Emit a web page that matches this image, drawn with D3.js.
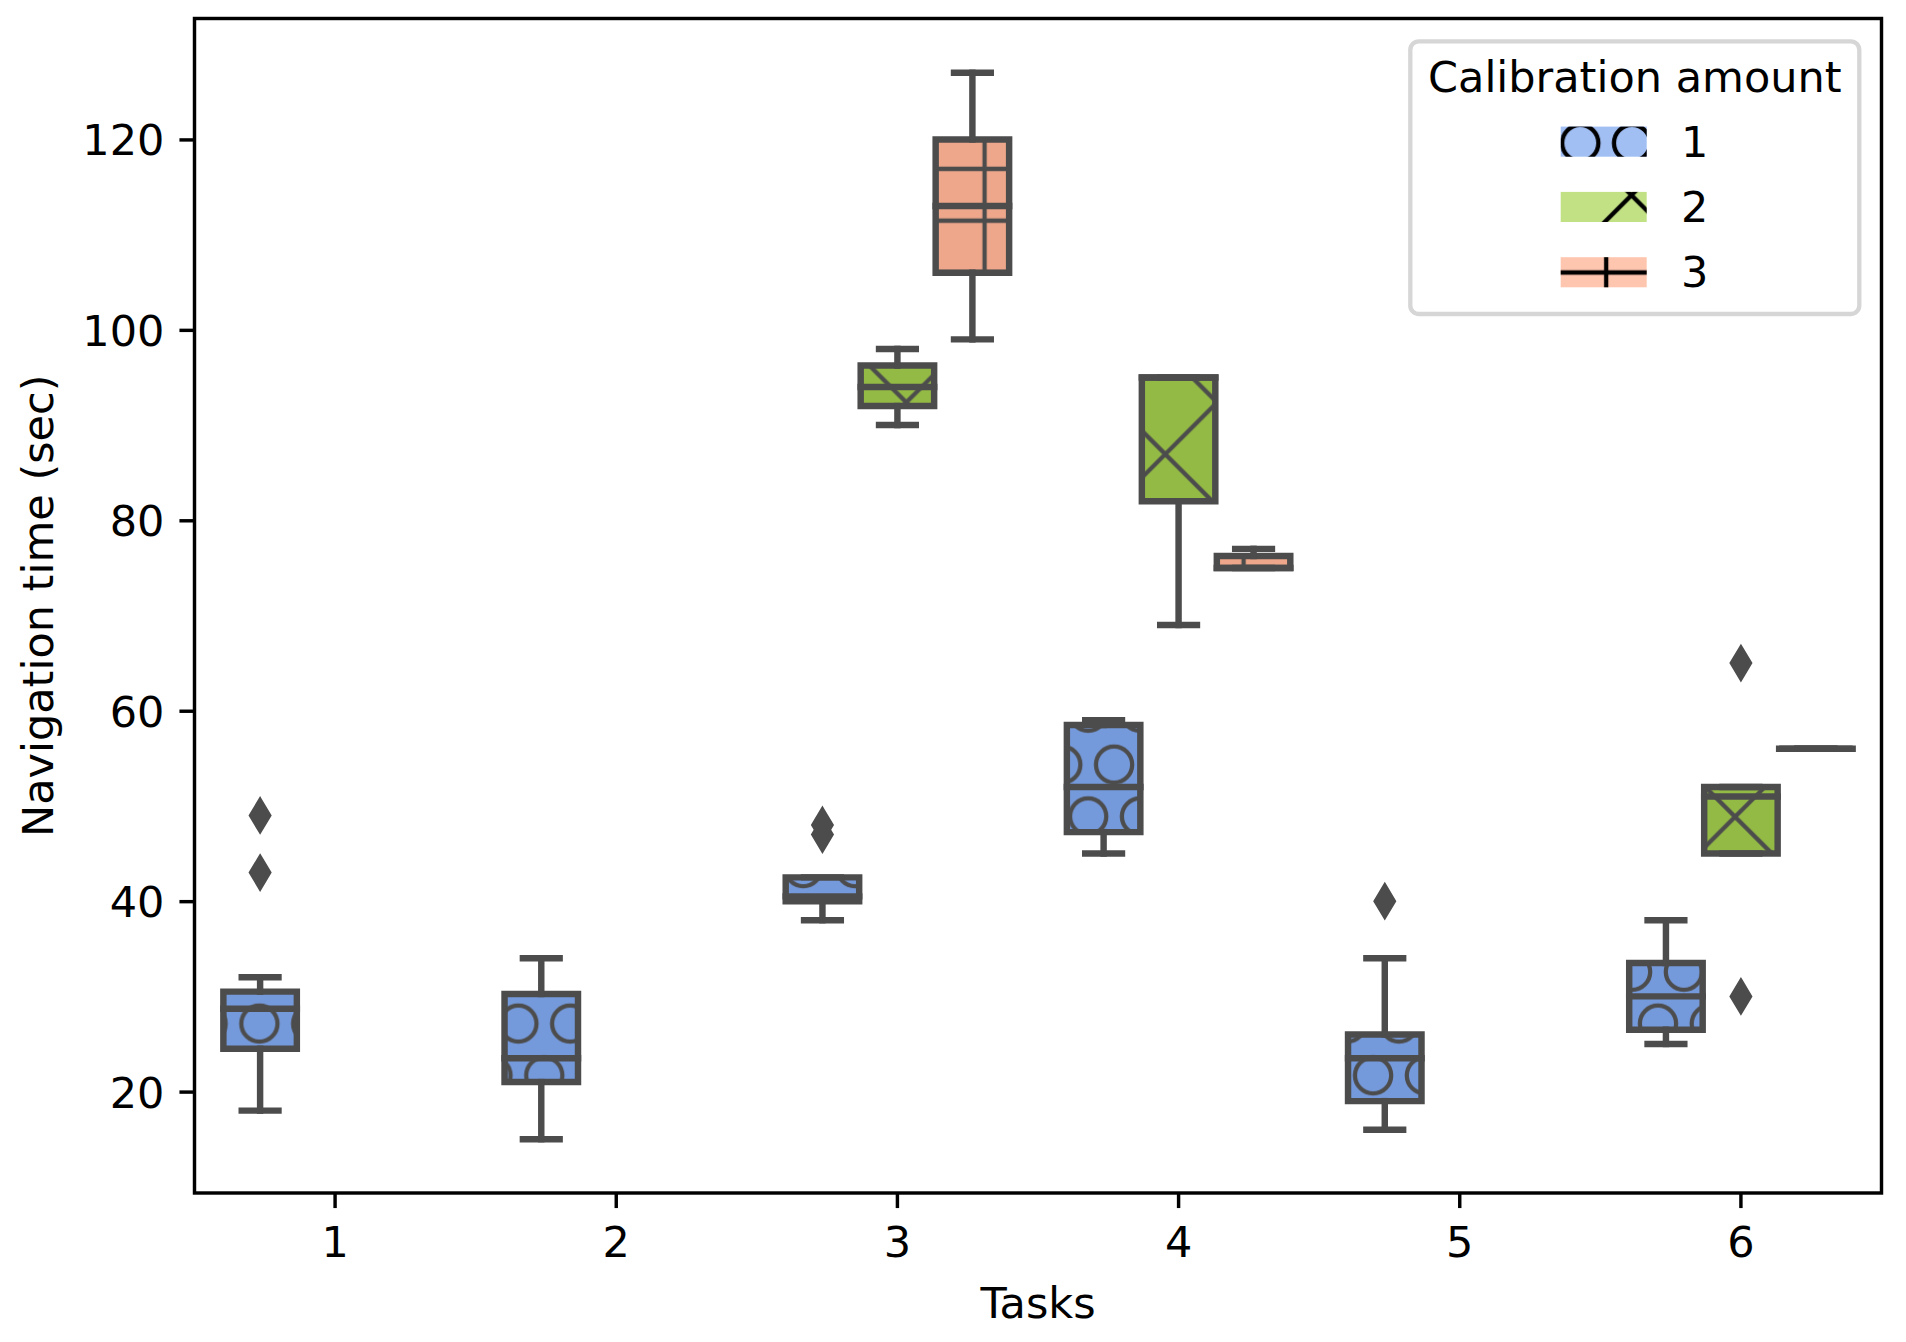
<!DOCTYPE html>
<html>
<head>
<meta charset="utf-8">
<script src="https://cdn.jsdelivr.net/npm/d3@7/dist/d3.min.js"></script>
<style>
html, body { margin: 0; padding: 0; background: #ffffff; }
svg { display: block; }
text { font-family: "DejaVu Sans", sans-serif; }
</style>
</head>
<body>
<div id="chart"></div>
<script>
// ---------------- data ----------------
const tasks = ["1", "2", "3", "4", "5", "6"];
const calibrationLevels = ["1", "2", "3"];
const yTickValues = [20, 40, 60, 80, 100, 120];

const boxTask  = ["1", "2", "3", "3", "3", "4", "4", "4", "5", "6", "6", "6"];
const boxLevel = ["1", "1", "1", "2", "3", "1", "2", "3", "1", "1", "2", "3"];
const whiskerLow  = [18, 15, 38, 90, 99, 45, 69, 75, 16, 25, 45, 56];
const quartile1   = [24.5, 21, 40, 92, 106, 47.25, 82, 75, 19, 26.5, 45, 56];
const medianValue = [28.7, 23.5, 40.5, 94, 113, 52, 95, 75, 23.5, 30, 51, 56];
const quartile3   = [30.5, 30.25, 42.5, 96.25, 120, 58.5, 95, 76.25, 26, 33.5, 52, 56];
const whiskerHigh = [32, 34, 42.5, 98, 127, 59, 95, 77, 34, 38, 52, 56];
const outliers    = [[43, 49], [], [47, 48], [], [], [], [], [], [40], [], [30, 65], []];

const boxColors    = ["#759adc", "#93ba45", "#eea78b"];
const legendColors = ["#a2bff4", "#c2e184", "#ffc6af"];
const hatchKinds   = ["O", "x", "+"];

// ---------------- layout ----------------
const W = 1906, H = 1342;
const plot = { left: 194.5, right: 1881.5, top: 18.5, bottom: 1193 };
const gray = "#4c4c4c";
const FS = 43;
const boxLW = 6.45, hatchLW = 4.3, spineLW = 3.44, tickLen = 15.07;
const P = 51.8;            // hatch cell size
const T = 2 * P;

const svg = d3.select("#chart").append("svg")
  .attr("width", W).attr("height", H)
  .attr("viewBox", `0 0 ${W} ${H}`);

const x = d3.scaleBand().domain(tasks).range([plot.left, plot.right]).padding(0);
const bw = x.bandwidth();
const inner = d3.scaleBand().domain(calibrationLevels).range([-0.4 * bw, 0.4 * bw]).padding(0);
const boxW = inner.bandwidth() * 0.98;
const y = d3.scaleLinear().domain([9.35, 132.7]).range([plot.bottom, plot.top]);

// ---------------- hatch patterns ----------------
const defs = svg.append("defs");
function makePatterns(suffix, color) {
  const pa = defs.append("pattern").attr("id", "hO_A" + suffix)
    .attr("patternUnits", "userSpaceOnUse")
    .attr("x", 0.4 - P / 2).attr("y", 91.2 - P / 2)
    .attr("width", P).attr("height", 2 * P);
  pa.append("circle").attr("cx", P / 2).attr("cy", P / 2).attr("r", 18.1)
    .attr("fill", "none").attr("stroke", color).attr("stroke-width", hatchLW);
  const pb = defs.append("pattern").attr("id", "hO_B" + suffix)
    .attr("patternUnits", "userSpaceOnUse")
    .attr("x", 0.4).attr("y", 91.2 + P / 2)
    .attr("width", P).attr("height", 2 * P);
  pb.append("circle").attr("cx", P / 2).attr("cy", P / 2).attr("r", 18.1)
    .attr("fill", "none").attr("stroke", color).attr("stroke-width", hatchLW);

  const px = defs.append("pattern").attr("id", "hx" + suffix)
    .attr("patternUnits", "userSpaceOnUse")
    .attr("x", 0).attr("y", 0).attr("width", T).attr("height", T);
  for (let n = -2; n <= 3; n++) {
    const c = 89.5 + n * T;
    px.append("line").attr("x1", c - 300).attr("y1", -300).attr("x2", c + 300).attr("y2", 300)
      .attr("stroke", color).attr("stroke-width", hatchLW);
    const d = 65.5 + n * T;
    px.append("line").attr("x1", d + 300).attr("y1", -300).attr("x2", d - 300).attr("y2", 300)
      .attr("stroke", color).attr("stroke-width", hatchLW);
  }

  const pp = defs.append("pattern").attr("id", "hp" + suffix)
    .attr("patternUnits", "userSpaceOnUse")
    .attr("x", 0.4 - P / 2).attr("y", 13.5 - P / 2).attr("width", P).attr("height", P);
  pp.append("line").attr("x1", P / 2).attr("y1", 0).attr("x2", P / 2).attr("y2", P)
    .attr("stroke", color).attr("stroke-width", hatchLW);
  pp.append("line").attr("x1", 0).attr("y1", P / 2).attr("x2", P).attr("y2", P / 2)
    .attr("stroke", color).attr("stroke-width", hatchLW);
}
makePatterns("_g", gray);
makePatterns("_k", "#000000");

function hatchFills(kind, suffix) {
  if (kind === "O") return ["url(#hO_A" + suffix + ")", "url(#hO_B" + suffix + ")"];
  if (kind === "x") return ["url(#hx" + suffix + ")"];
  return ["url(#hp" + suffix + ")"];
}

// ---------------- boxes ----------------
const gBoxes = svg.append("g");
const diamond = "M0,-15.2 L9.1,0 L0,15.2 L-9.1,0 Z";

boxTask.forEach((t, i) => {
  const li = calibrationLevels.indexOf(boxLevel[i]);
  const cx = x(t) + bw / 2 + inner(boxLevel[i]) + inner.bandwidth() / 2;
  const x0 = cx - boxW / 2, x1 = cx + boxW / 2;
  const yq3 = y(quartile3[i]), yq1 = y(quartile1[i]);
  const g = gBoxes.append("g");

  g.append("rect").attr("x", x0).attr("y", yq3).attr("width", boxW).attr("height", Math.max(0, yq1 - yq3))
    .attr("fill", boxColors[li]);
  hatchFills(hatchKinds[li], "_g").forEach(f => {
    g.append("rect").attr("x", x0).attr("y", yq3).attr("width", boxW).attr("height", Math.max(0, yq1 - yq3))
      .attr("fill", f);
  });
  g.append("path")
    .attr("d", `M${x0},${yq3} L${x1},${yq3} L${x1},${yq1} L${x0},${yq1} Z`)
    .attr("fill", "none").attr("stroke", gray).attr("stroke-width", boxLW)
    .attr("stroke-linejoin", "miter");

  const line = (xa, ya, xb, yb) => g.append("line")
    .attr("x1", xa).attr("y1", ya).attr("x2", xb).attr("y2", yb)
    .attr("stroke", gray).attr("stroke-width", boxLW).attr("stroke-linecap", "square");

  if (whiskerLow[i] < quartile1[i]) line(cx, yq1, cx, y(whiskerLow[i]));
  if (whiskerHigh[i] > quartile3[i]) line(cx, yq3, cx, y(whiskerHigh[i]));
  line(cx - boxW / 4, y(whiskerLow[i]), cx + boxW / 4, y(whiskerLow[i]));
  line(cx - boxW / 4, y(whiskerHigh[i]), cx + boxW / 4, y(whiskerHigh[i]));
  line(x0, y(medianValue[i]), x1, y(medianValue[i]));

  outliers[i].forEach(v => {
    g.append("path").attr("d", diamond)
      .attr("transform", `translate(${cx},${y(v)})`)
      .attr("fill", gray).attr("stroke", gray).attr("stroke-width", hatchLW)
      .attr("stroke-linejoin", "miter");
  });
});

// ---------------- axes ----------------
const xAxis = svg.append("g").attr("transform", `translate(0,${plot.bottom})`)
  .call(d3.axisBottom(x).tickSize(tickLen).tickSizeOuter(0));
xAxis.select(".domain").remove();
xAxis.selectAll(".tick line").attr("stroke", "#000").attr("stroke-width", spineLW);
xAxis.selectAll(".tick text").attr("y", 63.7).attr("dy", null)
  .attr("font-size", FS).attr("fill", "#000").attr("font-family", "DejaVu Sans");

const yAxis = svg.append("g").attr("transform", `translate(${plot.left},0)`)
  .call(d3.axisLeft(y).tickValues(yTickValues).tickSize(tickLen).tickPadding(tickLen).tickSizeOuter(0));
yAxis.select(".domain").remove();
yAxis.selectAll(".tick line").attr("stroke", "#000").attr("stroke-width", spineLW);
yAxis.selectAll(".tick text").attr("dy", "0.36em")
  .attr("font-size", FS).attr("fill", "#000").attr("font-family", "DejaVu Sans");

svg.append("rect")
  .attr("x", plot.left).attr("y", plot.top)
  .attr("width", plot.right - plot.left).attr("height", plot.bottom - plot.top)
  .attr("fill", "none").attr("stroke", "#000").attr("stroke-width", spineLW);

svg.append("text").attr("x", (plot.left + plot.right) / 2).attr("y", 1318.3)
  .attr("text-anchor", "middle").attr("font-size", FS).attr("fill", "#000")
  .text("Tasks");

svg.append("text")
  .attr("transform", `translate(53.3,${(plot.top + plot.bottom) / 2}) rotate(-90)`)
  .attr("text-anchor", "middle").attr("font-size", FS).attr("fill", "#000")
  .text("Navigation time (sec)");

// ---------------- legend ----------------
const lg = svg.append("g");
lg.append("rect").attr("x", 1410.3).attr("y", 41.3).attr("width", 449).attr("height", 272.7)
  .attr("rx", 8.6).attr("ry", 8.6)
  .attr("fill", "#ffffff").attr("fill-opacity", 0.8)
  .attr("stroke", "#d6d6d6").attr("stroke-width", hatchLW);
lg.append("text").attr("x", 1634.8).attr("y", 91.7).attr("text-anchor", "middle")
  .attr("font-size", FS).attr("fill", "#000").text("Calibration amount");

const legendRowTop = [126.6, 191.9, 257.2];
calibrationLevels.forEach((lvl, k) => {
  const top = legendRowTop[k];
  lg.append("rect").attr("x", 1560.7).attr("y", top).attr("width", 86).attr("height", 30.1)
    .attr("fill", legendColors[k]);
  hatchFills(hatchKinds[k], "_k").forEach(f => {
    lg.append("rect").attr("x", 1560.7).attr("y", top).attr("width", 86).attr("height", 30.1)
      .attr("fill", f);
  });
  lg.append("text").attr("x", 1681).attr("y", top + 30.1)
    .attr("font-size", FS).attr("fill", "#000").text(lvl);
});
</script>
</body>
</html>
